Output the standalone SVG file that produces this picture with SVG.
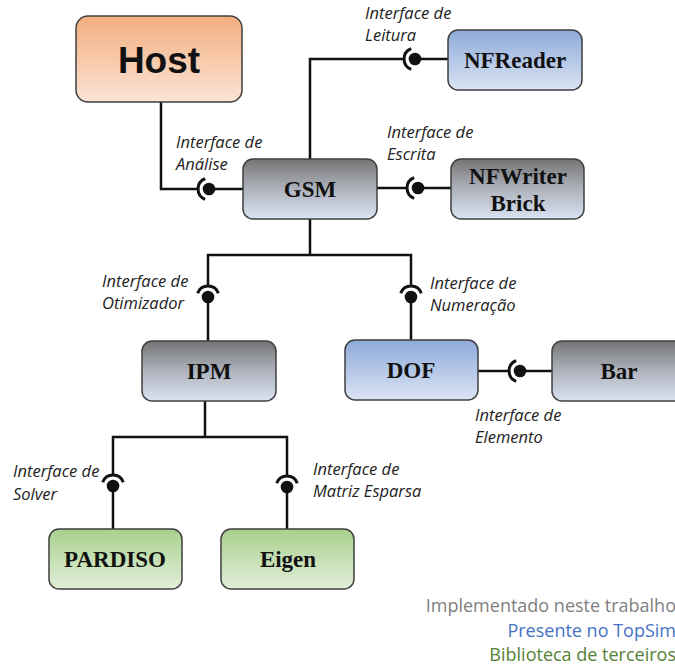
<svg xmlns="http://www.w3.org/2000/svg" xmlns:xlink="http://www.w3.org/1999/xlink" width="675" height="668" viewBox="0 0 675 668">
<style>
.box{stroke:#3f3f3f;stroke-width:1.5}
.nt{font-family:"Liberation Serif","Times New Roman",serif;font-weight:bold;font-size:23px;fill:#111;text-anchor:middle}
.lbl{font-family:"Open Sans","Liberation Sans",sans-serif;font-style:italic;font-size:16.5px;fill:#222}
.ln{fill:none;stroke:#111;stroke-width:2.5}
.leg{font-family:"Open Sans","Liberation Sans",sans-serif;font-size:18px;text-anchor:end}
</style>
<defs>
<linearGradient id="gOr" x1="0" y1="0" x2="0" y2="1"><stop offset="0" stop-color="#f3ae7f"/><stop offset="1" stop-color="#fbe4d5"/></linearGradient>
<linearGradient id="gGr" x1="0" y1="0" x2="0" y2="1"><stop offset="0" stop-color="#747474"/><stop offset="0.5" stop-color="#aeb3bc"/><stop offset="1" stop-color="#dae3f3"/></linearGradient>
<linearGradient id="gBl" x1="0" y1="0" x2="0" y2="1"><stop offset="0" stop-color="#8eaadb"/><stop offset="1" stop-color="#dbe4f3"/></linearGradient>
<linearGradient id="gGn" x1="0" y1="0" x2="0" y2="1"><stop offset="0" stop-color="#a8d08d"/><stop offset="1" stop-color="#e2efd9"/></linearGradient>
<g id="sock">
<path d="M-3.8,-10.3 A11,11 0 0 0 -3.8,10.3" fill="none" stroke="#111" stroke-width="3"/>
<circle cx="0" cy="0" r="6.3" fill="#111"/>
</g>
</defs>
<rect width="675" height="668" fill="#fff"/>

<g id="connectors">
<path class="ln" d="M161,102 V189 H198"/>
<path class="ln" d="M209,189 H243"/>
<path class="ln" d="M310,159 V59 H404"/>
<path class="ln" d="M415,59 H448"/>
<path class="ln" d="M377,188 H407"/>
<path class="ln" d="M418,188 H451"/>
<path class="ln" d="M310,219 V255 M208,286 V255 H411 V286"/>
<path class="ln" d="M208,297 V341 M411,297 V340"/>
<path class="ln" d="M478,371 H509"/>
<path class="ln" d="M520,371 H552"/>
<path class="ln" d="M205,401 V437 M113,475 V437 H287 V476"/>
<path class="ln" d="M113,486 V529 M287,487 V529"/>
<use xlink:href="#sock" transform="translate(209,189)"/>
<use xlink:href="#sock" transform="translate(415,59)"/>
<use xlink:href="#sock" transform="translate(418,188)"/>
<use xlink:href="#sock" transform="translate(208,297) rotate(90)"/>
<use xlink:href="#sock" transform="translate(411,297) rotate(90)"/>
<use xlink:href="#sock" transform="translate(520,371)"/>
<use xlink:href="#sock" transform="translate(113,486) rotate(90)"/>
<use xlink:href="#sock" transform="translate(287,487) rotate(90)"/>
</g>

<g id="host"><rect class="box" x="76" y="16" width="166" height="86" rx="12" fill="url(#gOr)"/>
<text x="159" y="73" font-family="'Liberation Sans',Arial,sans-serif" font-weight="bold" font-size="37" fill="#111" text-anchor="middle">Host</text></g>
<g id="gsm"><rect class="box" x="243" y="159" width="134" height="60" rx="10" fill="url(#gGr)"/>
<text class="nt" x="310" y="197">GSM</text></g>
<g id="nfreader"><rect class="box" x="448" y="30" width="134" height="60" rx="10" fill="url(#gBl)"/>
<text class="nt" x="515" y="68">NFReader</text></g>
<g id="nfwriter"><rect class="box" x="451" y="159" width="133" height="60" rx="10" fill="url(#gGr)"/>
<text class="nt" x="518" y="184">NFWriter</text><text class="nt" x="518" y="211">Brick</text></g>
<g id="ipm"><rect class="box" x="142" y="341" width="134" height="60" rx="10" fill="url(#gGr)"/>
<text class="nt" x="209" y="379">IPM</text></g>
<g id="dof"><rect class="box" x="345" y="340" width="133" height="60" rx="10" fill="url(#gBl)"/>
<text class="nt" x="411" y="378">DOF</text></g>
<g id="bar"><rect class="box" x="552" y="341" width="140" height="60" rx="10" fill="url(#gGr)"/>
<text class="nt" x="619" y="379">Bar</text></g>
<g id="pardiso"><rect class="box" x="49" y="529" width="133" height="60" rx="10" fill="url(#gGn)"/>
<text class="nt" x="115" y="567">PARDISO</text></g>
<g id="eigen"><rect class="box" x="221" y="529" width="133" height="60" rx="10" fill="url(#gGn)"/>
<text class="nt" x="288" y="567">Eigen</text></g>

<g id="labels">
<text class="lbl" x="365" y="19">Interface de</text><text class="lbl" x="365" y="41">Leitura</text>
<text class="lbl" x="176" y="148">Interface de</text><text class="lbl" x="176" y="170">Análise</text>
<text class="lbl" x="387" y="138">Interface de</text><text class="lbl" x="387" y="160">Escrita</text>
<text class="lbl" x="102" y="287">Interface de</text><text class="lbl" x="102" y="309">Otimizador</text>
<text class="lbl" x="430" y="289">Interface de</text><text class="lbl" x="430" y="311">Numeração</text>
<text class="lbl" x="475" y="421">Interface de</text><text class="lbl" x="475" y="443">Elemento</text>
<text class="lbl" x="13" y="477">Interface de</text><text class="lbl" x="13" y="500">Solver</text>
<text class="lbl" x="313" y="475">Interface de</text><text class="lbl" x="313" y="497">Matriz Esparsa</text>
</g>

<g id="legend">
<text class="leg" x="676" y="612" fill="#7f7f7f">Implementado neste trabalho</text>
<text class="leg" x="676" y="637" fill="#4472c4">Presente no TopSim</text>
<text class="leg" x="676" y="661" fill="#548235">Biblioteca de terceiros</text>
</g>
</svg>
